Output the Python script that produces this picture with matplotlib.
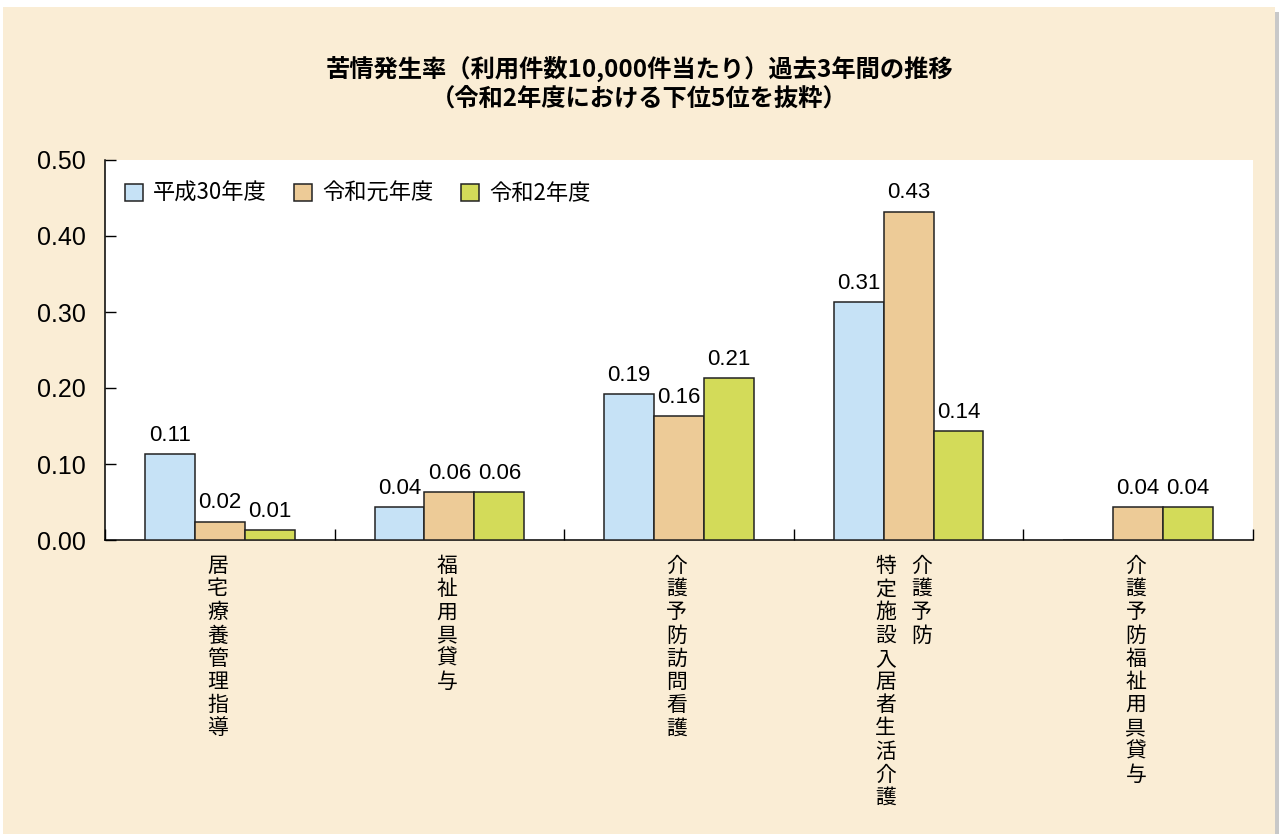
import numpy as np
import matplotlib
matplotlib.use("Agg")
import matplotlib.pyplot as plt
from matplotlib import font_manager
from matplotlib.patches import Rectangle
from matplotlib.transforms import blended_transform_factory

# data
categories = [
    ["居宅療養管理指導"],
    ["福祉用具貸与"],
    ["介護予防訪問看護"],
    ["介護予防", "特定施設入居者生活介護"],
    ["介護予防福祉用具貸与"],
]
series = ["平成30年度", "令和元年度", "令和2年度"]
h30 = [0.113, 0.043, 0.192, 0.313, 0.0]
r01 = [0.024, 0.063, 0.163, 0.432, 0.043]
r02 = [0.013, 0.063, 0.213, 0.143, 0.043]
values = [h30, r01, r02]
colors = ["#C6E2F6", "#EDCB97", "#D3DB59"]
yticks = [0.0, 0.1, 0.2, 0.3, 0.4, 0.5]

title1 = "苦情発生率（利用件数10,000件当たり）過去3年間の推移"
title2 = "（令和2年度における下位5位を抜粋）"

jp = ["Noto Sans CJK JP", "DejaVu Sans"]
names = {f.name for f in font_manager.fontManager.ttflist}
num_font = "Liberation Sans" if "Liberation Sans" in names else "DejaVu Sans"
narrow = "Liberation Sans Narrow" if "Liberation Sans Narrow" in names else num_font
lab_size = 18 if narrow != num_font else 16

fig = plt.figure(figsize=(12.79, 8.34), dpi=100, facecolor="white")
# beige panel with a thin shadow on the right
fig.patches.append(Rectangle((1275/1279, 0), 4/1279, 1 - 12/834, transform=fig.transFigure,
                             facecolor="#C8C8C8", edgecolor="none", zorder=-2))
fig.patches.append(Rectangle((3/1279, 0), 1272/1279, 1 - 7/834, transform=fig.transFigure,
                             facecolor="#FAEDD5", edgecolor="none", zorder=-1))

ax = fig.add_axes([105/1279, 1 - 540/834, 1148/1279, 380/834])
ax.set_facecolor("white")

x = np.arange(len(categories))
w = 50 / 230
for k, (vals, c, name) in enumerate(zip(values, colors, series)):
    pos = x + (k - 1) * w
    bars = ax.bar(pos, vals, width=w, color=c, edgecolor="#222222", linewidth=1.1,
                  label=name, zorder=3)
    for xi, v in zip(pos, vals):
        if v > 0:
            ax.annotate(f"{v:.2f}", (xi, v), xytext=(0, 6), textcoords="offset points",
                        ha="center", va="bottom", fontsize=lab_size, family=narrow)

ax.set_xlim(-0.5, len(categories) - 0.5)
ax.set_ylim(0, 0.5)
ax.set_yticks(yticks)
ax.set_yticklabels([f"{t:.2f}" for t in yticks], fontsize=18, family=num_font)
ax.set_xticks(np.arange(len(categories) + 1) - 0.5)
ax.set_xticklabels([])
ax.tick_params(axis="y", direction="in", length=8, width=1, pad=14)
ax.tick_params(axis="x", direction="in", length=8, width=1)
for s in ["top", "right"]:
    ax.spines[s].set_visible(False)
ax.spines["left"].set_linewidth(1.1)
ax.spines["bottom"].set_linewidth(1.1)

# vertical category labels
tr = blended_transform_factory(ax.transData, ax.transAxes)
for i, cols in enumerate(categories):
    if len(cols) == 1:
        offs = [-0.01]
    else:
        offs = [0.055, -0.1]
    for txt, off in zip(cols, offs):
        ax.text(i + off, -15/380, "\n".join(txt), transform=tr, ha="center", va="top",
                fontsize=15, family=jp, linespacing=1.07)

ax.legend(loc="upper left", bbox_to_anchor=(20/1148, 1 - 22/380), ncol=3, frameon=False,
          prop={"family": jp, "size": 16}, handlelength=0.8, handleheight=0.8,
          handletextpad=0.45, columnspacing=1.25, borderaxespad=0, borderpad=0)

fig.text(0.5, 1 - 69/834, title1, ha="center", va="center", fontsize=17.5,
         family=jp, weight="bold")
fig.text(0.5, 1 - 99/834, title2, ha="center", va="center", fontsize=17.5,
         family=jp, weight="bold")

fig.savefig("out.png", dpi=100, facecolor=fig.get_facecolor())
